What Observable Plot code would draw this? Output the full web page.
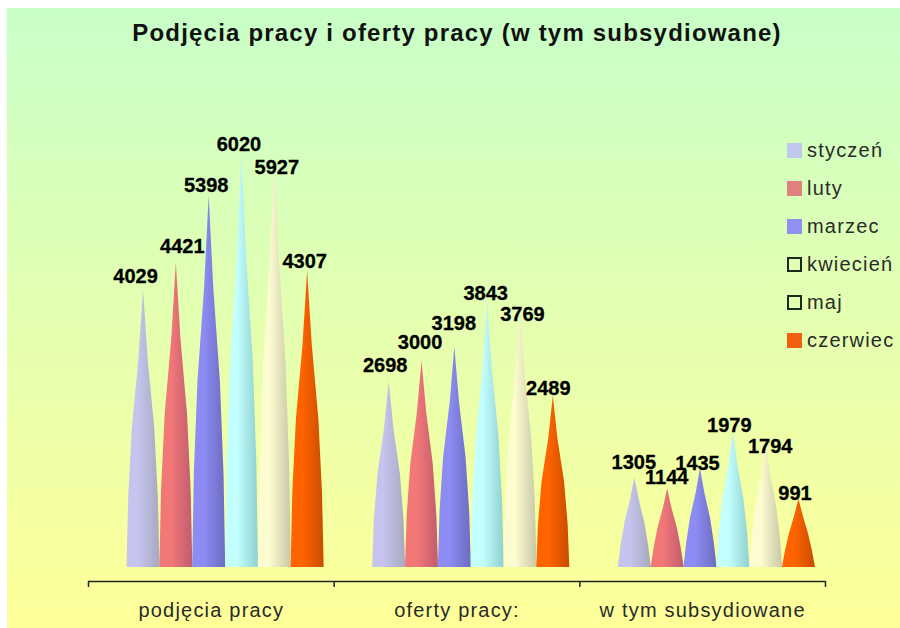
<!DOCTYPE html>
<html>
<head>
<meta charset="utf-8">
<script src="https://cdn.jsdelivr.net/npm/d3@7"></script>
<script src="https://cdn.jsdelivr.net/npm/@observablehq/plot@0.6"></script>
<style>
html,body{margin:0;padding:0;background:#fff;width:900px;height:628px;overflow:hidden;}
#panel{position:absolute;left:7px;top:8px;width:893px;height:620px;background:linear-gradient(to bottom,#c8ffc8 0%,#ffff99 100%);}
#title{position:absolute;left:7px;top:19px;width:900px;height:35px;line-height:35px;text-align:center;font:bold 24px "Liberation Sans",Arial,sans-serif;letter-spacing:1.2px;color:#111;z-index:2;white-space:nowrap;}
#chart{position:absolute;left:0;top:50px;z-index:1;}
#chart svg{background:transparent;display:block;}
#legend{position:absolute;left:787px;top:138px;z-index:3;font:20px "Liberation Sans",Arial,sans-serif;letter-spacing:1.2px;color:#2a2a2a;}
.row{position:absolute;left:0;height:24px;line-height:24px;white-space:nowrap;}
.sw{position:absolute;left:0;top:5px;width:15px;height:15px;box-sizing:border-box;}
.row span.t{position:absolute;left:20px;top:0;}
</style>
</head>
<body>
<div id="panel"></div>
<div id="title">Podjęcia pracy i oferty pracy (w tym subsydiowane)</div>
<div id="chart"></div>
<div id="legend"></div>
<script>
const categories = ["podjęcia pracy", "oferty pracy:", "w tym subsydiowane"];
const months = ["styczeń", "luty", "marzec", "kwiecień", "maj", "czerwiec"];
const podjecia = [4029, 4421, 5398, 6020, 5927, 4307];
const oferty = [2698, 3000, 3198, 3843, 3769, 2489];
const subsydiowane = [1305, 1144, 1435, 1979, 1794, 991];
const seriesByCategory = [podjecia, oferty, subsydiowane];
const lightColors = ["#c4c4ee", "#f27878", "#8c8cf4", "#c4ffff", "#fdfbd0", "#ff6400"];
const darkColors = ["#a8a8c0", "#c05c70", "#6c6cc0", "#90d0d0", "#c8c8a8", "#c84c00"];
const legendColors = ["#c0c8f0", "#e08080", "#9090f0", "none", "none", "#f06010"];

const labelDx = [-8, 6, -3, -3, 2, -3, -4, -2, -1, -2, 2, -5, -1, -1, -3, -4, 4, -4];
const labelDy = [-13, -16, -10, -8, 8, -9, -16, -18, -24, -9, 7, -7, -15, -11, -5, -6, 3, -6];

const rows = seriesByCategory.flatMap((vals, g) =>
  vals.map((value, m) => ({g, m, month: months[m], value, center: g + 0.224 + m * 0.1336})));
const halfWidth = 0.0672;
// Cone silhouette: tall cones bulge, short ones stay nearly straight.
const heightSteps = [0, 0.25, 0.5, 0.75, 1];
const bulgedWidth = [1, 0.9, 0.68, 0.28, 0];
const cones = rows.flatMap(d => {
  const bulge = Math.min(1, d.value / 2500);
  const side = heightSteps.map((h, i) => ({
    h, w: (1 - h) + (bulgedWidth[i] - (1 - h)) * bulge
  }));
  return [
    ...side.map(s => ({...d, x: d.center - s.w * halfWidth, y: s.h * d.value})),
    ...side.slice(0, -1).reverse().map(s => ({...d, x: d.center + s.w * halfWidth, y: s.h * d.value}))
  ];
});

const labelFont = {
  fontSize: 20, fontWeight: "bold", fontFamily: "Liberation Sans, Arial, sans-serif",
  fill: "#000", stroke: "#000", strokeWidth: 0.3
};

const chart = Plot.plot({
  width: 900, height: 572,
  marginLeft: 88, marginRight: 75, marginTop: 90, marginBottom: 41,
  style: {background: "transparent", overflow: "visible"},
  x: {domain: [0, 3], axis: null},
  y: {domain: [-203, 6200], axis: null},
  marks: [
    ...months.map((month, m) => Plot.areaY(cones.filter(d => d.m === m), {
      x: "x", y: "y", z: "g", fill: `url(#cone${m})`, curve: "linear"
    })),
    Plot.ruleY([-203], {stroke: "#1c2a1c", strokeWidth: 1.5}),
    Plot.ruleX([0, 1, 2, 3], {y1: -203, y2: -203, insetBottom: -6, stroke: "#1c2a1c", strokeWidth: 1.5}),
    Plot.text(categories, {
      x: (d, i) => i + 0.5, y: -203, text: d => d, dy: 29,
      fontSize: 20, fontFamily: "Liberation Sans, Arial, sans-serif", fill: "#2a2a2a",
      letterSpacing: "1.2px"
    }),
    ...rows.map((d, i) => Plot.text([d], {
      x: "center", y: "value", text: r => String(r.value),
      dx: labelDx[i], dy: labelDy[i], ...labelFont
    }))
  ]
});

const defs = months.map((_, m) => `<linearGradient id="cone${m}" x1="0" x2="1" y1="0" y2="0">
  <stop offset="0" stop-color="${lightColors[m]}"/>
  <stop offset="0.35" stop-color="${lightColors[m]}"/>
  <stop offset="1" stop-color="${darkColors[m]}"/>
</linearGradient>`).join("");
chart.insertAdjacentHTML("afterbegin", `<defs>${defs}</defs>`);
chart.querySelectorAll("text").forEach(t => { if (categories.includes(t.textContent)) t.style.letterSpacing = "1.2px"; });
document.getElementById("chart").append(chart);

document.getElementById("legend").innerHTML = months.map((month, m) => {
  const c = legendColors[m];
  const sw = c === "none" ? "background:transparent;border:2px solid #1c2a1c;" : `background:${c};`;
  return `<div class="row" style="top:${m * 38}px"><div class="sw" style="${sw}"></div><span class="t">${month}</span></div>`;
}).join("");
</script>
</body>
</html>
